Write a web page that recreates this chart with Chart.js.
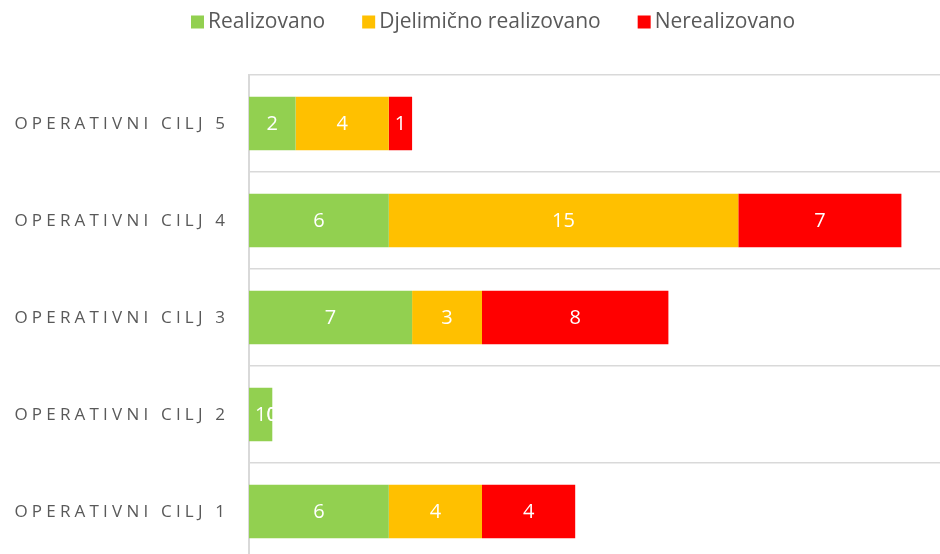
<!DOCTYPE html>
<html>
<head>
<meta charset="utf-8">
<script src="https://cdn.jsdelivr.net/npm/chart.js@4.4.0/dist/chart.umd.min.js"></script>
<style>
  html, body { margin: 0; padding: 0; background: #ffffff; overflow: hidden; width: 940px; height: 554px; }
  canvas { display: block; }
</style>
</head>
<body>
<canvas id="c" width="960" height="562"></canvas>
<script>
// ---- data ----
const categories = ['OPERATIVNI CILJ 5', 'OPERATIVNI CILJ 4', 'OPERATIVNI CILJ 3', 'OPERATIVNI CILJ 2', 'OPERATIVNI CILJ 1'];
const seriesNames = ['Realizovano', 'Djelimično realizovano', 'Nerealizovano'];
const realizovano = [2, 6, 7, 1, 6];
const djelimicno = [4, 15, 3, 0, 4];
const nerealizovano = [1, 7, 8, 0, 4];
const seriesColors = ['#92D050', '#FFC000', '#FF0000'];

const FONT = '"Open Sans", "DejaVu Sans", sans-serif';
const TEXT_COLOR = '#595959';

// custom legend (Excel-like spacing)
const legendPlugin = {
  id: 'xlLegend',
  afterDraw(chart) {
    const ctx = chart.ctx;
    ctx.save();
    ctx.font = '21px ' + FONT;
    ctx.textBaseline = 'middle';
    ctx.textAlign = 'left';
    let x = 191;
    const yc = 22;
    const box = 13;
    chart.data.datasets.forEach(ds => {
      ctx.fillStyle = ds.backgroundColor;
      ctx.fillRect(x, yc - box / 2, box, box);
      x += box + 4;
      ctx.fillStyle = TEXT_COLOR;
      ctx.fillText(ds.label, x, yc);
      x += ctx.measureText(ds.label).width + 37;
    });
    ctx.restore();
  }
};

// y category labels with letter spacing
const yLabelPlugin = {
  id: 'yLabels',
  afterDraw(chart) {
    const ctx = chart.ctx;
    const scale = chart.scales.y;
    const spacing = 4.2;
    ctx.save();
    ctx.font = '17px ' + FONT;
    ctx.fillStyle = TEXT_COLOR;
    ctx.textBaseline = 'middle';
    ctx.textAlign = 'left';
    const rightEdge = 225;
    chart.data.labels.forEach((lab, i) => {
      const y = scale.getPixelForValue(i);
      const chars = Array.from(lab);
      const widths = chars.map(ch => ctx.measureText(ch).width);
      const total = widths.reduce((a, b) => a + b, 0) + spacing * (chars.length - 1);
      let x = rightEdge - total;
      chars.forEach((ch, k) => {
        ctx.fillText(ch, x, y + 1);
        x += widths[k] + spacing;
      });
    });
    ctx.restore();
  }
};

// data labels inside segments
const dataLabelPlugin = {
  id: 'dataLabels',
  afterDatasetsDraw(chart) {
    const ctx = chart.ctx;
    ctx.save();
    ctx.font = '20px ' + FONT;
    ctx.fillStyle = '#ffffff';
    ctx.textAlign = 'center';
    ctx.textBaseline = 'middle';
    chart.data.datasets.forEach((ds, di) => {
      const meta = chart.getDatasetMeta(di);
      meta.data.forEach((el, i) => {
        const v = ds.data[i];
        const cx = (el.x + el.base) / 2;
        ctx.fillText(String(v), cx, el.y + 1);
      });
    });
    ctx.restore();
  }
};

new Chart(document.getElementById('c'), {
  type: 'bar',
  data: {
    labels: categories,
    datasets: [
      { label: seriesNames[0], data: realizovano, backgroundColor: seriesColors[0] },
      { label: seriesNames[1], data: djelimicno, backgroundColor: seriesColors[1] },
      { label: seriesNames[2], data: nerealizovano, backgroundColor: seriesColors[2] }
    ]
  },
  options: {
    indexAxis: 'y',
    responsive: false,
    animation: false,
    maintainAspectRatio: false,
    layout: { padding: { left: 0, top: 75, right: 12, bottom: 2 } },
    datasets: { bar: { barPercentage: 0.55, categoryPercentage: 1.0, borderWidth: 0 } },
    plugins: {
      legend: { display: false },
      tooltip: { enabled: false }
    },
    scales: {
      x: {
        stacked: true,
        min: 0,
        max: 30,
        display: false
      },
      y: {
        stacked: true,
        grid: { display: true, color: '#d9d9d9', lineWidth: 1.5, drawTicks: false, offset: true },
        border: { display: true, color: '#d9d9d9', width: 2 },
        ticks: { display: false },
        afterFit(scale) { scale.width = 249; }
      }
    }
  },
  plugins: [legendPlugin, yLabelPlugin, dataLabelPlugin]
});
</script>
</body>
</html>
